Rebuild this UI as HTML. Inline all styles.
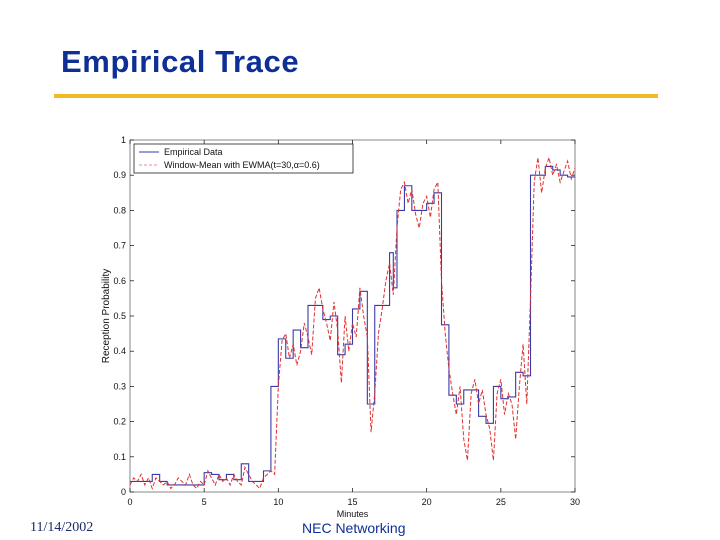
<!DOCTYPE html>
<html><head><meta charset="utf-8"><style>
body{margin:0;width:720px;height:540px;background:#fff;overflow:hidden;position:relative;font-family:"Liberation Sans",sans-serif}
#title{position:absolute;left:61px;top:44px;font-size:31px;font-weight:bold;color:#0D2F96;letter-spacing:0.6px}
#rule{position:absolute;left:54px;top:94px;width:604px;height:4px;background:#EEBB22}
#date{position:absolute;left:30px;top:520px;font-family:"Liberation Serif",serif;font-size:14px;color:#1a2a6a}
#foot{position:absolute;left:302px;top:520px;font-size:14px;color:#0D2F96}
svg{position:absolute;left:0;top:0}
</style></head><body>
<div id="title">Empirical Trace</div>
<div id="rule"></div>
<svg id="chart" width="720" height="540"></svg>
<div id="date">11/14/2002</div>
<div id="foot">NEC Networking</div>
<script>
const xTicks=[0,5,10,15,20,25,30];
const yTicks=[0,0.1,0.2,0.3,0.4,0.5,0.6,0.7,0.8,0.9,1];
const yTickLabels=["0","0.1","0.2","0.3","0.4","0.5","0.6","0.7","0.8","0.9","1"];
const empStarts=[0,1.5,2,2.5,3,5,5.5,6,6.5,7,7.5,8,9,9.5,10,10.5,11,11.5,12,13,13.5,14,14.5,15,15.5,16,16.5,17,17.5,17.75,18,18.5,19,19.5,20,20.5,21,21.5,22,22.5,23,23.5,24,24.5,25,25.5,26,26.5,27,27.5,28,28.5,29,29.5];
const empValues=[0.03,0.05,0.03,0.02,0.02,0.055,0.05,0.035,0.05,0.035,0.08,0.03,0.06,0.3,0.435,0.38,0.46,0.41,0.53,0.49,0.5,0.39,0.42,0.52,0.57,0.25,0.53,0.53,0.68,0.58,0.8,0.87,0.8,0.8,0.82,0.85,0.475,0.275,0.25,0.29,0.29,0.215,0.195,0.3,0.265,0.27,0.34,0.33,0.9,0.9,0.925,0.915,0.9,0.895];
const ewmaStep=0.25;
const ewmaValues=[0.02,0.04,0.03,0.05,0.02,0.04,0.01,0.04,0.03,0.02,0.03,
0.01,0.02,0.04,0.03,0.02,0.05,0.02,0.01,0.03,0.02,
0.06,0.04,0.02,0.05,0.03,0.04,0.02,0.05,0.03,0.02,
0.07,0.05,0.03,0.02,0.01,0.04,0.05,0.06,0.05,0.30,
0.43,0.45,0.38,0.42,0.36,0.40,0.48,0.44,0.39,0.55,
0.58,0.52,0.48,0.43,0.54,0.46,0.31,0.50,0.40,0.48,
0.44,0.58,0.50,0.44,0.17,0.28,0.45,0.52,0.60,0.65,
0.56,0.75,0.86,0.88,0.82,0.86,0.79,0.75,0.82,0.84,
0.78,0.86,0.88,0.60,0.45,0.35,0.28,0.22,0.30,0.15,
0.09,0.28,0.32,0.25,0.29,0.22,0.18,0.09,0.28,0.32,
0.22,0.28,0.25,0.15,0.30,0.42,0.25,0.55,0.88,0.95,
0.85,0.92,0.95,0.90,0.93,0.88,0.91,0.94,0.89,0.92];
const X0=130,X1=575,Y0=492,Y1=140,XMAX=30;
const sx=v=>X0+(X1-X0)*v/XMAX, sy=v=>Y0-(Y0-Y1)*v;
const svg=document.getElementById('chart');const NS='http://www.w3.org/2000/svg';
function mk(t,a,p){const e=document.createElementNS(NS,t);for(const k in a)e.setAttribute(k,a[k]);(p||svg).appendChild(e);return e;}
const frame=mk('rect',{x:X0,y:Y1,width:X1-X0,height:Y0-Y1,fill:'#fff',stroke:'#555','stroke-width':0.7});


xTicks.forEach(t=>{const x=sx(t);
mk('line',{x1:x,x2:x,y1:Y0,y2:Y0-4,stroke:'#222','stroke-width':0.8});
mk('line',{x1:x,x2:x,y1:Y1,y2:Y1+4,stroke:'#222','stroke-width':0.8});
const l=mk('text',{x:x,y:Y0+13,'font-size':9,'text-anchor':'middle',fill:'#111'});l.textContent=t;

});
yTicks.forEach((t,i)=>{const y=sy(t);
mk('line',{x1:X0,x2:X0+4,y1:y,y2:y,stroke:'#222','stroke-width':0.8});
mk('line',{x1:X1,x2:X1-4,y1:y,y2:y,stroke:'#222','stroke-width':0.8});
const l=mk('text',{x:X0-4,y:y+3,'font-size':9,'text-anchor':'end',fill:'#111'});l.textContent=yTickLabels[i];

});
const xt=mk('text',{x:(X0+X1)/2,y:Y0+25,'font-size':9,'text-anchor':'middle',fill:'#111'});xt.textContent='Minutes';


const yt=mk('text',{x:109,y:(Y0+Y1)/2,'font-size':10,'text-anchor':'middle',fill:'#111',transform:'rotate(-90 109 '+((Y0+Y1)/2)+')'});yt.textContent='Reception Probability';


let d='';empStarts.forEach((s,i)=>{const e=i+1<empStarts.length?empStarts[i+1]:XMAX;const y=sy(empValues[i]);d+=(i?'L':'M')+sx(s)+','+y+'L'+sx(e)+','+y;});
const emp=mk('path',{d:d,fill:'none',stroke:'#3a3aa8','stroke-width':1.1});


let d2='';ewmaValues.forEach((v,i)=>{d2+=(i?'L':'M')+sx(i*ewmaStep)+','+sy(v);});
const ew=mk('path',{d:d2,fill:'none',stroke:'#e03030','stroke-width':1,'stroke-dasharray':'4,2'});


const lg=mk('g',{});


mk('rect',{x:134,y:144,width:219,height:29,fill:'#fff',stroke:'#222','stroke-width':0.8},lg);
mk('line',{x1:139,x2:159,y1:152,y2:152,stroke:'#3a3aa8','stroke-width':1},lg);
mk('line',{x1:139,x2:159,y1:165,y2:165,stroke:'#e89090','stroke-width':1,'stroke-dasharray':'3,2'},lg);
const t1=mk('text',{x:164,y:155,'font-size':9,fill:'#111'},lg);t1.textContent='Empirical Data';


const t2=mk('text',{x:164,y:168,'font-size':9,fill:'#111'},lg);t2.textContent='Window-Mean with EWMA(t=30,\u03b1=0.6)';


</script>
</body></html>
